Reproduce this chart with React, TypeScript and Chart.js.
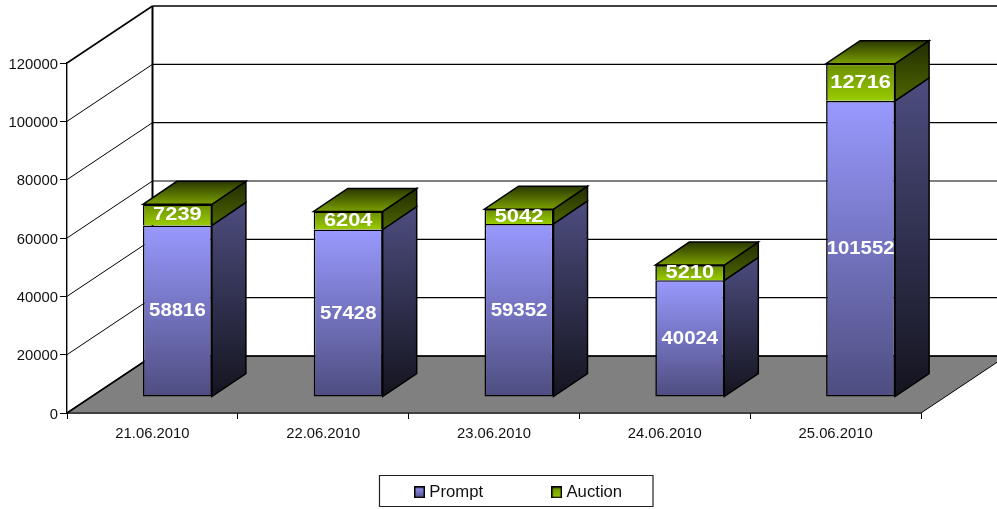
import React, { useEffect, useRef } from "react";
import { Chart, registerables } from "chart.js";

Chart.register(...registerables);

const categories = ["21.06.2010", "22.06.2010", "23.06.2010", "24.06.2010", "25.06.2010"];
const prompt = [58816, 57428, 59352, 40024, 101552];
const auction = [7239, 6204, 5042, 5210, 12716];
const yMax = 120000;
const yStep = 20000;

const FONT = "'Liberation Sans', Arial, sans-serif";
const WALL = { dx: 85.5, dy: -57 };
const BAR = { shiftX: 25, shiftY: -16, dx: 34, dy: -23 };
const PROMPT_FRONT = ["#9999ff", "#4d4d80"];
const PROMPT_SIDE = ["#4d4d80", "#14141f"];
const AUCTION_FRONT = ["#6a8d00", "#99cc00"];
const AUCTION_SIDE = ["#222d00", "#4d6600"];
const AUCTION_TOP = ["#2a3800", "#7a9f00"];

function grad(ctx: CanvasRenderingContext2D, top: number, bottom: number, c: string[]) {
  const g = ctx.createLinearGradient(0, top, 0, bottom);
  g.addColorStop(0, c[0]);
  g.addColorStop(1, c[1]);
  return g;
}

function poly(ctx: CanvasRenderingContext2D, pts: number[][], fill: any, stroke: string, lw: number) {
  ctx.beginPath();
  pts.forEach((p, i) => (i ? ctx.lineTo(p[0], p[1]) : ctx.moveTo(p[0], p[1])));
  ctx.closePath();
  if (fill) {
    ctx.fillStyle = fill;
    ctx.fill();
  }
  ctx.strokeStyle = stroke;
  ctx.lineWidth = lw;
  ctx.stroke();
}

function line(ctx: CanvasRenderingContext2D, x1: number, y1: number, x2: number, y2: number, lw: number) {
  ctx.beginPath();
  ctx.moveTo(x1, y1);
  ctx.lineTo(x2, y2);
  ctx.strokeStyle = "#000";
  ctx.lineWidth = lw;
  ctx.stroke();
}

function swatch(colors: string[]) {
  const c = document.createElement("canvas");
  c.width = 11;
  c.height = 12;
  const g = c.getContext("2d") as CanvasRenderingContext2D;
  g.fillStyle = grad(g, 0, 12, colors);
  g.fillRect(0, 0, 11, 12);
  g.strokeStyle = "#000";
  g.lineWidth = 1.5;
  g.strokeRect(0.75, 0.75, 9.5, 10.5);
  return c;
}

const legendPlacer = {
  id: "legendPlacer",
  afterLayout(chart: any) {
    const l = chart.legend;
    l.left = 346;
    l.right = 800;
    l.top = 412;
    l.bottom = 505;
  },
  beforeDraw(chart: any) {
    const ctx = chart.ctx;
    ctx.save();
    ctx.fillStyle = "#fff";
    ctx.fillRect(0, 0, chart.width, chart.height);
    poly(ctx, [[379.5, 475.5], [653, 475.5], [653, 506.5], [379.5, 506.5]], "#fff", "#222", 1.2);
    ctx.restore();
  },
};

const walls3d = {
  id: "walls3d",
  beforeDatasetsDraw(chart: any) {
    const { ctx, chartArea: a, scales } = chart;
    const y = scales.y;
    ctx.save();
    const { dx, dy } = WALL;
    // floor
    const y0 = y.getPixelForValue(0);
    poly(
      ctx,
      [[a.left, y0], [a.left + dx, y0 + dy], [a.right + dx, y0 + dy], [a.right, y0]],
      "#808080",
      "#000",
      1
    );
    // grid on the side and back walls
    for (let v = yStep; v <= yMax; v += yStep) {
      const py = y.getPixelForValue(v);
      line(ctx, a.left, py, a.left + dx, py + dy, v === yMax ? 1.6 : 1);
      line(ctx, a.left + dx, py + dy, a.right + dx, py + dy, v === yMax ? 1.6 : 1.2);
    }
    line(ctx, a.left, y0, a.left + dx, y0 + dy, 1.6);
    line(ctx, a.left + dx, y0 + dy, a.right + dx, y0 + dy, 1.4);
    line(ctx, a.left + dx, y0 + dy + 0.5, a.left + dx, y.getPixelForValue(yMax) + dy, 2);
    ctx.restore();

    // bar sides and tops, then the library draws the fronts in the same shifted frame
    ctx.save();
    ctx.translate(BAR.shiftX, BAR.shiftY);
    const sides = [PROMPT_SIDE, AUCTION_SIDE];
    categories.forEach((_, j) => {
      [0, 1].forEach((d) => {
        const el = chart.getDatasetMeta(d).data[j];
        const { x, y: top, base, width } = el.getProps(["x", "y", "base", "width"], true);
        const r = x + width / 2;
        const l = x - width / 2;
        poly(
          ctx,
          [[r, base], [r + BAR.dx, base + BAR.dy], [r + BAR.dx, top + BAR.dy], [r, top]],
          grad(ctx, top + BAR.dy, base, sides[d]),
          "#000",
          1.5
        );
        if (d === 1) {
          poly(
            ctx,
            [[l, top], [l + BAR.dx, top + BAR.dy], [r + BAR.dx, top + BAR.dy], [r, top]],
            grad(ctx, top + BAR.dy, top, AUCTION_TOP),
            "#000",
            1.5
          );
        }
      });
    });
  },
  afterDatasetsDraw(chart: any) {
    const ctx = chart.ctx;
    ctx.restore();
    [0, 1].forEach((d) => {
      const values = chart.data.datasets[d].data;
      chart.getDatasetMeta(d).data.forEach((el: any, j: number) => {
        const { x, y: top, base } = el.getProps(["x", "y", "base"], true);
        ctx.save();
        ctx.font = `bold 18.5px ${FONT}`;
        ctx.translate(x + BAR.shiftX, (top + base) / 2 + BAR.shiftY + 5.5);
        ctx.scale(d === 0 ? 1.1 : 1.18, 1);
        ctx.fillStyle = "#fff";
        ctx.textAlign = "center";
        ctx.textBaseline = "alphabetic";
        ctx.fillText(String(values[j]), 0, 0);
        ctx.restore();
      });
    });
  },
};

function barFill(colors: string[], lower: number[], upper: number[]) {
  return (c: any) => {
    const y = c.chart.scales.y;
    const i = c.dataIndex ?? 0;
    return grad(c.chart.ctx, y.getPixelForValue(upper[i]), y.getPixelForValue(lower[i]), colors);
  };
}

export default function App() {
  const ref = useRef<HTMLCanvasElement>(null);
  useEffect(() => {
    const zero = prompt.map(() => 0);
    const total = prompt.map((p, i) => p + auction[i]);
    const chart = new Chart(ref.current as HTMLCanvasElement, {
      type: "bar",
      data: {
        labels: categories,
        datasets: [
          {
            label: "Prompt",
            data: prompt,
            backgroundColor: barFill(PROMPT_FRONT, zero, prompt) as any,
            borderColor: "#000",
            borderWidth: 1.6,
            borderSkipped: false,
            barPercentage: 0.8,
            categoryPercentage: 0.505,
            clip: false,
          },
          {
            label: "Auction",
            data: auction,
            backgroundColor: barFill(AUCTION_FRONT, prompt, total) as any,
            borderColor: "#000",
            borderWidth: { top: 1.6, left: 1.6, right: 1.6, bottom: 0 },
            borderSkipped: false,
            barPercentage: 0.8,
            categoryPercentage: 0.505,
            clip: false,
          },
        ],
      },
      options: {
        responsive: false,
        animation: false,
        layout: { padding: { top: 63, right: 76, left: 0, bottom: 0 } },
        scales: {
          x: {
            stacked: true,
            afterFit: (s: any) => {
              s.height = 66;
            },
            grid: { drawOnChartArea: false, offset: true, tickLength: 6, tickColor: "#000", tickWidth: 1 },
            border: { display: true, color: "#000", width: 1.4 },
            ticks: { color: "#111", padding: 6, maxRotation: 0, font: { family: FONT, size: 14.8 } },
          },
          y: {
            stacked: true,
            min: 0,
            max: yMax,
            afterFit: (s: any) => {
              s.width = 67;
            },
            grid: { drawOnChartArea: false, tickLength: 7, tickColor: "#000", tickWidth: 1 },
            border: { display: true, color: "#000", width: 1.4 },
            ticks: {
              stepSize: yStep,
              color: "#111",
              padding: 2,
              labelOffset: 1.5,
              font: { family: FONT, size: 14.8 },
              callback: (v: any) => String(v),
            },
          },
        },
        plugins: {
          tooltip: { enabled: false },
          legend: {
            position: "bottom",
            align: "start",
            maxHeight: 30,
            labels: {
              usePointStyle: true,
              boxWidth: 3,
              boxHeight: 12,
              padding: 72,
              color: "#111",
              font: { family: FONT, size: 16.7 },
              generateLabels: (c: any) =>
                c.data.datasets.map((d: any, i: number) => ({
                  text: d.label,
                  datasetIndex: i,
                  pointStyle: swatch(i === 0 ? PROMPT_FRONT : AUCTION_FRONT),
                  fontColor: "#111",
                  hidden: false,
                })),
            },
          },
        },
      } as any,
      plugins: [legendPlacer, walls3d],
    });
    return () => chart.destroy();
  }, []);
  return (
    <div style={{ position: "absolute", left: 0, top: 0, width: 997, height: 509, overflow: "hidden" }}>
      <canvas ref={ref} width={997} height={509} style={{ display: "block" }} />
    </div>
  );
}
